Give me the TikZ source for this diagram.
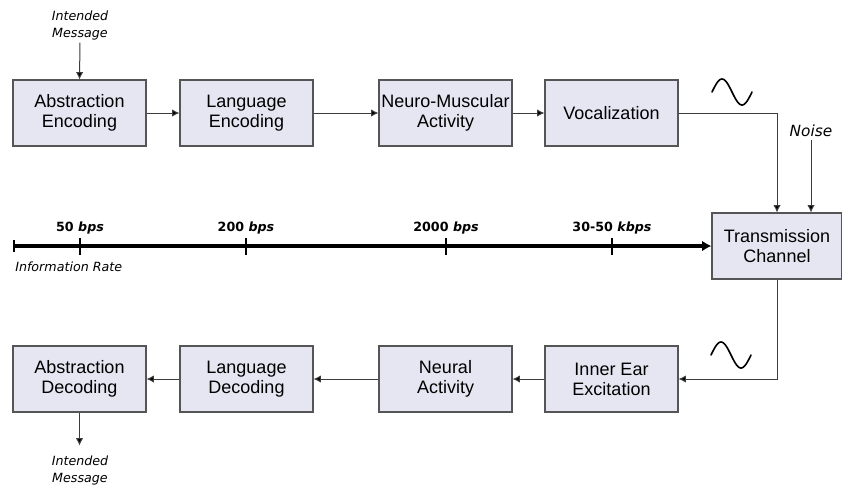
\documentclass[tikz,border=0pt]{standalone}
\usepackage{fontspec}
\setmainfont{Liberation Sans}
\newfontfamily\ratefont{DejaVu Sans}
\usetikzlibrary{arrows.meta}

\definecolor{boxfill}{RGB}{230,230,242}
\definecolor{boxline}{RGB}{85,85,85}
\definecolor{wire}{RGB}{60,60,60}

\tikzset{
  block/.style={draw=boxline, fill=boxfill, line width=0.8pt,
    minimum width=99.75pt, minimum height=49.5pt, inner sep=0pt,
    align=center, font=\fontsize{13.5}{15}\selectfont},
  flow/.style={draw=wire, line width=0.75pt, -{Latex[length=5.5pt,width=5.5pt,fill=black]}},
  note/.style={align=center, inner sep=2pt, font=\ratefont\itshape\fontsize{9.5}{12.75}\selectfont},
  rate/.style={font=\ratefont\bfseries\fontsize{9.5}{11}\selectfont},
  wave/.style={line width=1.2pt, line cap=round},
}

\begin{document}
\begin{tikzpicture}[x=0.75pt, y=-0.75pt]
\useasboundingbox (0,0) rectangle (842,487);

% encoding chain
\node[block] (abenc) at (79.5,113) {Abstraction\\Encoding};
\node[block] (lgenc) at (246.5,113) {Language\\Encoding};
\node[block] (neuro) at (445.5,113) {Neuro-Muscular\\Activity};
\node[block] (voc)   at (611.5,113) {Vocalization};

\node[block, minimum width=97.5pt] (tc) at (777,246) {Transmission\\Channel};

% decoding chain
\node[block] (abdec) at (79.5,379) {Abstraction\\Decoding};
\node[block] (lgdec) at (246.5,379) {Language\\Decoding};
\node[block] (neural) at (445.5,379) {Neural\\Activity};
\node[block] (inner) at (611.5,379) {Inner Ear\\Excitation};

% messages and noise
\node[note] (msgin) at (80,25) {Intended\\Message};
\node[note] (msgout) at (80,470) {Intended\\Message};
\node[note, font=\ratefont\itshape\fontsize{11.5}{13}\selectfont] (noise) at (811,131) {Noise};

\draw[flow] (msgin.south) -- (abenc.north);
\draw[flow] (abenc) -- (lgenc);
\draw[flow] (lgenc) -- (neuro);
\draw[flow] (neuro) -- (voc);
\draw[flow] (voc.east) -| (tc.north);
\draw[flow] (noise.south) -- (noise.south |- tc.north);
\draw[flow] (tc.south) |- (inner.east);
\draw[flow] (inner) -- (neural);
\draw[flow] (neural) -- (lgdec);
\draw[flow] (lgdec) -- (abdec);
\draw[flow] (abdec.south) -- ++(0,33);

% carrier waves
\draw[wave] plot[domain=0:360, samples=50] ({712+\x/9}, {92-13*sin(\x)});
\draw[wave] plot[domain=0:360, samples=50] ({711+\x/9}, {355-13*sin(\x)});

% information rate axis
\coordinate (ratestart) at (14,246);
\draw[line width=2.4pt, -{Latex[length=7pt,width=8pt]}] (ratestart) -- (tc.west);
\draw[line width=1.5pt] (14,240) -- (14,252);
\foreach \x/\lbl in {80/{50 \textit{bps}}, 246/{200 \textit{bps}},
                     446/{2000 \textit{bps}}, 612/{30-50 \textit{kbps}}}{
  \draw[line width=1.5pt] (\x,238) -- (\x,255);
  \node[rate] at (\x,228) {\lbl};
}
\node[note, anchor=west, inner sep=0pt] (ratelabel) at (15,267) {Information Rate};
\end{tikzpicture}
\end{document}
